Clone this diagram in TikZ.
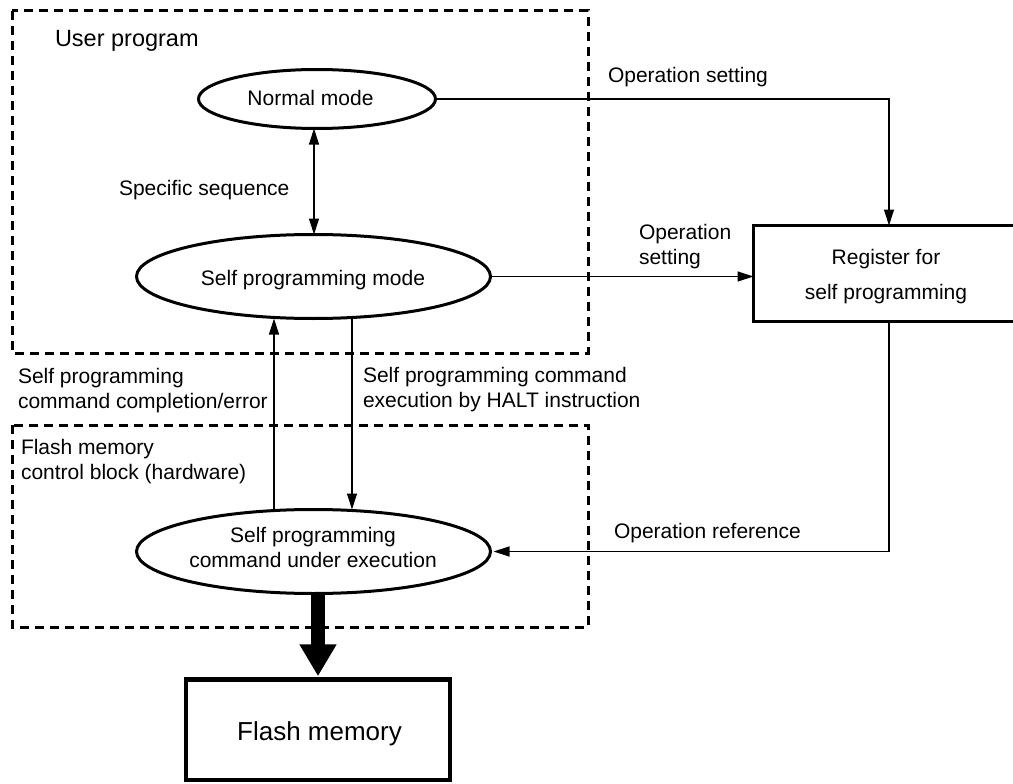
\documentclass[tikz,border=0pt]{standalone}
\usepackage{fontspec}
\setmainfont{Liberation Sans}
\usetikzlibrary{shapes.geometric,arrows.meta}
\begin{document}
\begin{tikzpicture}[x=1pt,y=-1pt,
  every node/.style={inner sep=0pt, outer sep=0pt},
  lbl/.style={font=\fontsize{21}{25}\selectfont},
  modeell/.style={ellipse, draw, line width=3pt, inner sep=0pt},
  conn/.style={line width=1.2pt, -{Triangle[length=16pt,width=10pt]}},
  dblconn/.style={line width=1.2pt, {Triangle[length=16pt,width=10pt]}-{Triangle[length=16pt,width=10pt]}},
  dashbox/.style={line width=3pt, dash pattern=on 9pt off 6pt},
  bigarrow/.style={line width=14pt, -{Triangle[length=32pt,width=35pt]}},
]
\useasboundingbox (0,0) rectangle (1013,784);

% dashed regions
\draw[dashbox] (12,11) rectangle (588,353);
\draw[dashbox] (12,425) rectangle (588,627);

% ellipses
\node[modeell, minimum width=237pt, minimum height=59pt] (e1) at (317,99) {};
\node[lbl, anchor=base] (t1) at (310.5,106) {Normal mode};
\node[modeell, minimum width=354pt, minimum height=84pt] (e2) at (313.5,276.5) {};
\node[lbl, anchor=base] (t2) at (313,285) {Self programming mode};
\node[modeell, minimum width=354pt, minimum height=84pt] (e3) at (313.5,551.5) {};
\node[lbl, align=center] (t3) at (313,547) {Self programming\\command under execution};

% boxes
\node[draw, line width=3pt, minimum width=271pt, minimum height=96pt] (reg) at (889,273.5) {};
\node[font=\fontsize{21}{35}\selectfont, align=center] (t4) at (886,277) {Register for\\self programming};
\node[draw, line width=4.5pt, minimum width=264pt, minimum height=100.5pt] (flash) at (318,729.5) {};
\node[font=\fontsize{26}{30}\selectfont, anchor=base] (t5) at (319.5,740) {Flash memory};

% labels
\node[font=\fontsize{23.5}{28}\selectfont, anchor=base west] (l1) at (55,47) {User program};
\node[lbl, anchor=base west] (l2) at (119,195) {Specific sequence};
\node[lbl, anchor=base west] (l3) at (608,83) {Operation setting};
\node[lbl, anchor=west, align=left] (l4) at (639,247) {Operation\\setting};
\node[lbl, anchor=west, align=left] (l5) at (18,391) {Self programming\\command completion/error};
\node[lbl, anchor=west, align=left] (l6) at (363,390) {Self programming command\\execution by HALT instruction};
\node[lbl, anchor=west, align=left] (l7) at (21,462) {Flash memory\\control block (hardware)};
\node[lbl, anchor=base west] (l8) at (614,538) {Operation reference};

% helper x positions
\coordinate (ax) at (314,0);
\coordinate (ux) at (274,0);
\coordinate (dx) at (352,0);

% connectors
\draw[dblconn] (e1.south -| ax) -- (e2.north -| ax);
\draw[conn] (e1.east) -| (reg.north);
\draw[conn] (e2.east) -- (e2.east -| reg.west);
\draw[conn, shorten >=3pt] (reg.south) |- (e3.east);
\draw[conn] (e3.north -| ux) -- (e2.south -| ux);
\draw[conn] (e2.south -| dx) -- (e3.north -| dx);
\draw[bigarrow, shorten >=3pt] (e3.south -| flash.north) -- (flash.north);
\end{tikzpicture}
\end{document}
